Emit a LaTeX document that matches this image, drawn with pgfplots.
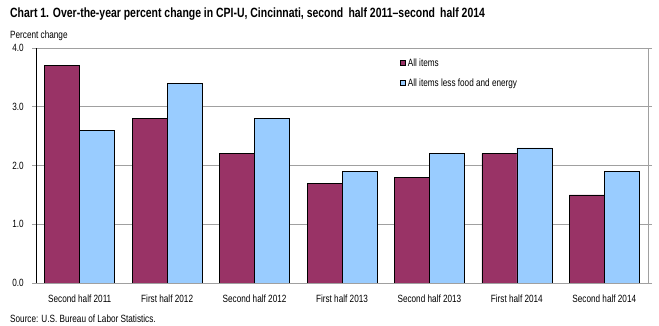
\documentclass[border=0pt]{standalone}
\usepackage{pgfplots}
\pgfplotsset{compat=1.18}
\usepackage{fontspec}
\setmainfont{Liberation Sans}[FakeStretch=0.78]
\definecolor{maroon}{HTML}{993366}
\definecolor{lblue}{HTML}{99CCFF}
\definecolor{gridgray}{HTML}{A0A0A0}
\begin{document}
\begin{tikzpicture}[x=1pt,y=1pt]
\path[use as bounding box] (0,0) rectangle (659,326);
\node[anchor=base west,inner sep=0pt] at (10,308) {\fontsize{13.4}{15}\selectfont\bfseries Chart 1. Over-the-year percent change in CPI-U, Cincinnati, second\, half 2011--second\, half 2014};
\node[anchor=base west,inner sep=0pt] at (10,287) {\fontsize{10.5}{12}\selectfont Percent change};
\node[anchor=base west,inner sep=0pt] at (10,3) {\fontsize{10.5}{12}\selectfont Source: U.S. Bureau of Labor Statistics.};
\begin{axis}[
  at={(36pt,43pt)}, anchor=south west,
  scale only axis, width=612pt, height=235pt,
  xmin=-0.5, xmax=6.5, ymin=0, ymax=4,
  ytick={0,1,2,3,4},
  /pgf/number format/fixed,
  /pgf/number format/fixed zerofill,
  /pgf/number format/precision=1,
  /pgf/number format/assume math mode=true,
  xtick={0,1,2,3,4,5,6},
  xticklabels={Second half 2011,First half 2012,Second half 2012,First half 2013,Second half 2013,First half 2014,Second half 2014},
  tick label style={font=\fontsize{10.5}{12}\selectfont, inner sep=0pt},
  yticklabel style={xshift=-8pt},
  xticklabel style={yshift=-8pt},
  xtick style={draw=none},
  ytick style={draw=gridgray, line width=0.8pt},
  tick align=outside, major tick length=4pt,
  ymajorgrids, major grid style={gridgray, line width=0.8pt},
  axis line style={gridgray, line width=0.8pt},
  bar width=0.4,
  legend style={draw=none, fill=none, at={(0.595,0.965)}, anchor=north west,
    font=\fontsize{10.5}{12}\selectfont, row sep=7pt, inner sep=0pt,
    legend cell align=left},
  legend image code/.code={\draw[#1, draw=black, line width=0.5pt] (0pt,-2.5pt) rectangle (5pt,2.5pt);},
]
\addplot[ybar, bar shift=-0.2, fill=maroon, draw=black, line width=0.5pt] coordinates {
 (0,3.7) (1,2.8) (2,2.2) (3,1.7) (4,1.8) (5,2.2) (6,1.5)};
\addlegendentry{All items}
\addplot[ybar, bar shift=0.2, fill=lblue, draw=black, line width=0.5pt] coordinates {
 (0,2.6) (1,3.4) (2,2.8) (3,1.9) (4,2.2) (5,2.3) (6,1.9)};
\addlegendentry{All items less food and energy}
\draw[black, line width=0.8pt] (rel axis cs:0,0) -- (rel axis cs:0,1);
\draw[black, line width=0.8pt] (rel axis cs:0,0) -- (rel axis cs:1,0);
\end{axis}
\end{tikzpicture}
\end{document}
